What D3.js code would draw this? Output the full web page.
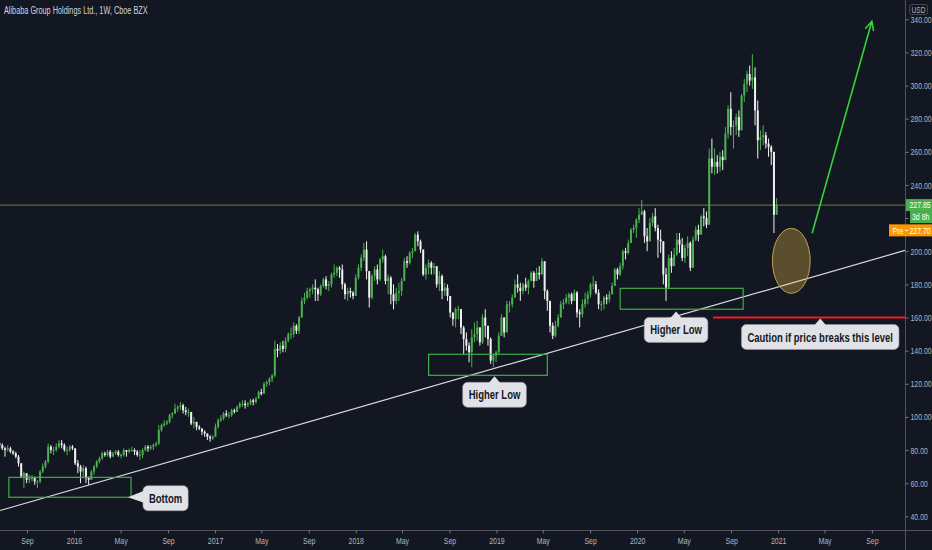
<!DOCTYPE html>
<html>
<head>
<meta charset="utf-8">
<script src="https://cdn.jsdelivr.net/npm/d3@7"></script>
<style>
  body { margin: 0; background: #131722; }
  svg { display: block; }
</style>
</head>
<body>
<div class="chart"></div>
<script>
// Chart size and the price/time axis edges.
var w = 932,
    h = 550;
var plotRight = 905,
    plotBottom = 530;

// Weekly bars, [close, high, low]; each bar opens at the previous close.
var firstWeek = "2015-06-22";
var firstOpen = 84;

var bars2015 = [
  [83, 85, 81], [81, 84, 80], [80, 82, 76], [81, 83, 79], [79, 82, 78], [78, 80, 77],
  [76, 79, 75], [72, 77, 70], [64, 71, 63], [66, 67, 57], [62, 66, 60], [63, 65, 60],
  [63, 65, 61], [61, 64, 59], [61, 62, 57], [67, 68, 60], [70, 72, 66], [73, 74, 69],
  [82, 84, 72], [80, 83, 78], [80, 82, 77], [82, 84, 79], [84, 86, 81], [83, 86, 81],
  [80, 84, 79], [80, 82, 77], [82, 83, 79], [81, 83, 80]
];
var bars2016 = [
  [72, 80, 71], [70, 74, 66], [67, 71, 60], [69, 71, 63], [63, 70, 60], [62, 64, 59],
  [67, 68, 62], [70, 71, 65], [73, 74, 69], [75, 76, 72], [78, 79, 74], [77, 79, 76],
  [79, 80, 76], [76, 80, 75], [78, 79, 76], [79, 80, 77], [77, 80, 76], [77, 78, 75],
  [80, 81, 76], [79, 80, 76], [80, 81, 78], [80, 82, 79], [79, 81, 77], [77, 80, 76],
  [77, 80, 74], [80, 81, 75], [82, 83, 79], [81, 83, 79], [82, 83, 80], [83, 84, 80],
  [84, 85, 82], [92, 95, 83], [95, 96, 91], [96, 98, 94], [97, 98, 95], [101, 102, 96],
  [102, 103, 99], [105, 108, 102], [106, 107, 103], [107, 109, 104], [104, 108, 102], [103, 106, 101],
  [103, 105, 100], [96, 103, 95], [97, 100, 93], [94, 97, 92], [93, 95, 92], [91, 93, 89],
  [90, 92, 88], [88, 90, 86], [87, 89, 85], [88, 89, 86]
];
var bars2017 = [
  [94, 96, 88], [98, 99, 93], [99, 101, 97], [102, 103, 98], [101, 104, 100], [101, 103, 99],
  [104, 105, 100], [103, 105, 102], [106, 107, 103], [108, 109, 105], [108, 110, 106], [107, 110, 105],
  [108, 109, 106], [110, 111, 107], [109, 111, 107], [111, 112, 108], [115, 116, 111], [114, 117, 113],
  [120, 121, 114], [121, 122, 118], [123, 124, 119], [125, 126, 121], [141, 146, 124], [140, 144, 136],
  [143, 145, 138], [141, 146, 139], [146, 148, 139], [150, 151, 145], [150, 154, 147], [155, 157, 148],
  [152, 156, 150], [160, 161, 150], [170, 172, 160], [172, 175, 168], [176, 178, 171], [177, 178, 172],
  [178, 180, 174], [177, 183, 170], [174, 178, 170], [179, 180, 173], [183, 184, 178], [179, 185, 177],
  [180, 182, 176], [186, 187, 178], [187, 192, 184], [190, 191, 185], [189, 191, 184], [180, 192, 177],
  [174, 181, 171], [176, 178, 170], [175, 178, 172], [173, 176, 171]
];
var bars2018 = [
  [184, 186, 173], [190, 192, 183], [196, 198, 188], [201, 205, 194], [188, 206, 183], [172, 188, 166],
  [185, 186, 171], [189, 191, 182], [183, 192, 180], [195, 196, 182], [197, 201, 193], [182, 198, 180],
  [184, 186, 174], [174, 185, 168], [170, 180, 165], [175, 178, 168], [176, 181, 170], [182, 184, 173],
  [194, 196, 182], [193, 197, 190], [199, 200, 192], [200, 202, 196], [210, 211, 200], [206, 212, 203],
  [201, 207, 199], [186, 201, 185], [190, 192, 183], [193, 195, 186], [190, 194, 186], [191, 193, 186],
  [180, 191, 178], [185, 188, 176], [176, 186, 171], [178, 181, 173], [173, 180, 170], [163, 173, 160],
  [159, 163, 155], [165, 166, 154], [165, 167, 159], [154, 164, 150], [147, 155, 138], [143, 151, 140],
  [139, 145, 133], [148, 153, 130], [150, 157, 145], [154, 158, 146], [145, 152, 143], [160, 162, 144],
  [155, 165, 148], [147, 152, 143], [134, 148, 132], [137, 138, 130], [139, 140, 133]
];
var bars2019 = [
  [149, 151, 138], [160, 162, 150], [151, 160, 148], [168, 170, 152], [168, 170, 163], [172, 174, 166],
  [180, 183, 172], [178, 186, 175], [176, 181, 170], [180, 181, 174], [178, 184, 176], [182, 183, 174],
  [187, 188, 182], [182, 188, 178], [187, 190, 182], [186, 191, 183], [194, 196, 186], [176, 186, 171],
  [170, 177, 164], [155, 165, 151], [149, 157, 147], [155, 158, 148], [160, 162, 154], [168, 170, 160],
  [169, 171, 165], [172, 174, 168], [174, 175, 168], [170, 175, 168], [175, 177, 170], [163, 176, 160],
  [162, 165, 154], [168, 171, 160], [171, 175, 166], [174, 176, 168], [180, 181, 172], [180, 185, 177],
  [175, 182, 174], [168, 177, 165], [168, 170, 164], [172, 173, 165], [171, 174, 168], [174, 176, 169],
  [179, 181, 174], [189, 190, 179], [186, 190, 183], [191, 193, 185], [200, 201, 189], [199, 202, 195],
  [205, 207, 198], [213, 214, 205], [214, 216, 211], [219, 220, 208]
];
var bars2020 = [
  [222, 226, 217], [224, 231, 222], [209, 225, 205], [206, 214, 200], [217, 220, 207], [221, 223, 215],
  [214, 226, 212], [207, 216, 196], [206, 213, 199], [186, 204, 180], [178, 190, 170], [196, 198, 179],
  [191, 200, 187], [198, 202, 194], [207, 211, 197], [204, 211, 199], [196, 208, 194], [202, 204, 193],
  [205, 209, 197], [190, 206, 188], [207, 209, 193], [213, 215, 206], [210, 216, 206], [221, 222, 212],
  [220, 226, 215], [216, 224, 214], [256, 262, 218], [251, 268, 247], [254, 262, 246], [251, 258, 247],
  [257, 260, 248], [255, 261, 249], [271, 275, 255], [286, 288, 268], [275, 296, 270], [276, 279, 262],
  [281, 283, 270], [273, 285, 269], [294, 295, 273], [301, 304, 290], [307, 309, 296], [303, 312, 300],
  [305, 319, 298], [285, 311, 276], [267, 291, 256], [269, 273, 261], [270, 276, 264], [265, 272, 262],
  [263, 268, 257], [260, 264, 252], [222, 258, 211], [228, 232, 222]
];

// Axis ticks and price labels.
var yTicks = [40, 60, 80, 100, 120, 140, 160, 180, 200, 220, 240, 260, 280, 300, 320, 340];
var lastPrice = 227.85,
    prePrice = 227.70,
    countdown = "3d 8h";
var title = "Alibaba Group Holdings Ltd., 1W, Cboe BZX";

// Drawings, in date / price.
var trendLine = [["2015-06-23", 43.5], ["2021-11-26", 200.5]];
var zones = [
  ["2015-07-16", 63.5, "2016-05-28", 51.5],
  ["2018-07-09", 137.8, "2019-05-13", 125.1],
  ["2019-11-18", 177.6, "2020-10-02", 165.0]
];
var cautionLevel = ["2020-07-16", 160];
var targetZone = ["2020-12-17", 213.8, "2021-03-25", 174.6];
var targetArrow = [["2021-03-30", 210.8], ["2021-09-01", 338.8]];
var callouts = [
  {text: "Bottom", date: "2016-05-20", price: 51.5, side: "right"},
  {text: "Higher Low", date: "2018-12-27", price: 125.1, side: "below"},
  {text: "Higher Low", date: "2020-04-11", price: 164.3, side: "below"},
  {text: "Caution if price breaks this level", date: "2021-04-20", price: 160, side: "below"}
];

var parseDate = d3.timeParse("%Y-%m-%d");

// Build OHLC rows.
var rows = [];
var allBars = bars2015.concat(bars2016, bars2017, bars2018, bars2019, bars2020);
var prevClose = firstOpen;
var start = parseDate(firstWeek);
allBars.forEach(function(b, i) {
  var o = prevClose;
  rows.push({
    date: d3.timeDay.offset(start, 7 * i),
    open: o,
    close: b[0],
    high: Math.max(b[1], o, b[0]),
    low: Math.min(b[2], o, b[0])
  });
  prevClose = b[0];
});

// The screenshot is squeezed sideways, so text is narrowed to match.
var font = "'Liberation Sans', Arial, sans-serif";
var squeezeBy = 0.73;
function squeeze(sel) {
  sel.each(function() {
    var n = this.getComputedTextLength();
    d3.select(this)
      .attr("textLength", n * squeezeBy)
      .attr("lengthAdjust", "spacingAndGlyphs");
  });
}

var svg = d3.select(".chart").append("svg")
  .attr("width", w)
  .attr("height", h)
  .style("background", "#131722");

var xScale = d3.scaleTime()
  .domain([parseDate("2015-06-23"), parseDate("2021-11-26")])
  .range([0, plotRight]);

var yScale = d3.scaleLinear()
  .domain([40, 340])
  .range([516.3, 19.3]);

svg.append("defs").append("clipPath")
  .attr("id", "plot")
  .append("rect")
  .attr("width", plotRight)
  .attr("height", plotBottom);

var plot = svg.append("g").attr("clip-path", "url(#plot)");

// Last price line.
plot.append("line")
  .attr("x1", 0)
  .attr("x2", plotRight)
  .attr("y1", yScale(lastPrice))
  .attr("y2", yScale(lastPrice))
  .attr("stroke", "#787b3c")
  .attr("stroke-width", 1);

// Candles.
var candles = plot.append("g").selectAll("g")
  .data(rows)
  .enter()
  .append("g")
  .attr("fill", function(d) { return d.close >= d.open ? "#4caf50" : "#f0f0f0"; })
  .attr("stroke", function(d) { return d.close >= d.open ? "#4caf50" : "#f0f0f0"; });

candles.append("line")
  .attr("x1", function(d) { return xScale(d.date); })
  .attr("x2", function(d) { return xScale(d.date); })
  .attr("y1", function(d) { return yScale(d.high); })
  .attr("y2", function(d) { return yScale(d.low); })
  .attr("stroke-width", 1);

candles.append("rect")
  .attr("stroke", "none")
  .attr("x", function(d) { return xScale(d.date) - 1; })
  .attr("width", 2)
  .attr("y", function(d) { return yScale(Math.max(d.open, d.close)); })
  .attr("height", function(d) {
    return Math.max(1, Math.abs(yScale(d.open) - yScale(d.close)));
  });

// Trend line.
plot.append("line")
  .attr("x1", xScale(parseDate(trendLine[0][0])))
  .attr("y1", yScale(trendLine[0][1]))
  .attr("x2", xScale(parseDate(trendLine[1][0])))
  .attr("y2", yScale(trendLine[1][1]))
  .attr("stroke", "#d8d9de")
  .attr("stroke-width", 1.2);

// Green boxes.
plot.selectAll(".zone")
  .data(zones)
  .enter()
  .append("rect")
  .attr("class", "zone")
  .attr("x", function(d) { return xScale(parseDate(d[0])); })
  .attr("y", function(d) { return yScale(d[1]); })
  .attr("width", function(d) { return xScale(parseDate(d[2])) - xScale(parseDate(d[0])); })
  .attr("height", function(d) { return yScale(d[3]) - yScale(d[1]); })
  .attr("fill", "none")
  .attr("stroke", "#3fae45")
  .attr("stroke-width", 1.2);

// Caution level.
plot.append("line")
  .attr("x1", xScale(parseDate(cautionLevel[0])))
  .attr("x2", plotRight)
  .attr("y1", yScale(cautionLevel[1]))
  .attr("y2", yScale(cautionLevel[1]))
  .attr("stroke", "#f01e1e")
  .attr("stroke-width", 1.8);

// Target ellipse.
var ex1 = xScale(parseDate(targetZone[0])), ex2 = xScale(parseDate(targetZone[2]));
var ey1 = yScale(targetZone[1]), ey2 = yScale(targetZone[3]);
plot.append("ellipse")
  .attr("cx", (ex1 + ex2) / 2)
  .attr("cy", (ey1 + ey2) / 2)
  .attr("rx", (ex2 - ex1) / 2)
  .attr("ry", (ey2 - ey1) / 2)
  .attr("fill", "rgba(255, 205, 80, 0.3)")
  .attr("stroke", "#c2a24a")
  .attr("stroke-width", 1);

// Target arrow.
var ax1 = xScale(parseDate(targetArrow[0][0])), ay1 = yScale(targetArrow[0][1]);
var ax2 = xScale(parseDate(targetArrow[1][0])), ay2 = yScale(targetArrow[1][1]);
var ang = Math.atan2(ay2 - ay1, ax2 - ax1);
var head = 10, spread = 0.45;
plot.append("path")
  .attr("d", "M" + ax1 + "," + ay1 + "L" + ax2 + "," + ay2 +
    "M" + (ax2 - head * Math.cos(ang - spread)) + "," + (ay2 - head * Math.sin(ang - spread)) +
    "L" + ax2 + "," + ay2 +
    "L" + (ax2 - head * Math.cos(ang + spread)) + "," + (ay2 - head * Math.sin(ang + spread)))
  .attr("fill", "none")
  .attr("stroke", "#34d23a")
  .attr("stroke-width", 1.6);

// Callouts.
callouts.forEach(function(c) {
  var tx = xScale(parseDate(c.date)), ty = yScale(c.price);
  var g = plot.append("g");
  var label = g.append("text")
    .style("font-family", font)
    .style("font-weight", "bold")
    .style("font-size", "13px")
    .attr("fill", "#131722")
    .attr("text-anchor", "middle")
    .text(c.text)
    .call(squeeze);
  var tw = +label.attr("textLength");
  var bw = tw + 12, bh = 25;
  var bx, by, pointer;
  if (c.side === "right") {
    bx = tx + 15;
    by = ty + 1 - bh / 2;
    pointer = [[bx + 1, by + 5], [tx, ty], [bx + 1, by + 17]];
  } else {
    bx = tx - bw / 2;
    by = ty + 7;
    pointer = [[tx - 6, by + 1], [tx, ty + 1], [tx + 6, by + 1]];
  }
  g.insert("rect", "text")
    .attr("x", bx)
    .attr("y", by)
    .attr("width", bw)
    .attr("height", bh)
    .attr("rx", 5)
    .attr("fill", "#e0e2e8")
    .attr("stroke", "#9598a1")
    .attr("stroke-width", 0.6);
  g.insert("path", "text")
    .attr("d", d3.line()(pointer))
    .attr("fill", "#e0e2e8");
  label.attr("x", bx + bw / 2).attr("y", by + bh / 2 + 4.5);
});

// Axes.
svg.append("line")
  .attr("x1", plotRight + 0.5).attr("x2", plotRight + 0.5)
  .attr("y1", 0).attr("y2", h)
  .attr("stroke", "#50535e");
svg.append("line")
  .attr("x1", 0).attr("x2", w)
  .attr("y1", plotBottom + 0.5).attr("y2", plotBottom + 0.5)
  .attr("stroke", "#50535e");

var yAxis = d3.axisRight(yScale)
  .tickValues(yTicks)
  .tickFormat(d3.format(".2f"))
  .tickSize(3)
  .tickPadding(2);

var gy = svg.append("g")
  .attr("class", "axisY")
  .attr("transform", "translate(" + (plotRight + 0.5) + ",0)")
  .call(yAxis);

var monthFormat = d3.timeFormat("%b"), yearFormat = d3.timeFormat("%Y");
var xAxis = d3.axisBottom(xScale)
  .ticks(d3.timeMonth.every(4))
  .tickFormat(function(d) { return d.getMonth() === 0 ? yearFormat(d) : monthFormat(d); })
  .tickSize(3)
  .tickPadding(4);

var gx = svg.append("g")
  .attr("class", "axisX")
  .attr("transform", "translate(0," + (plotBottom + 0.5) + ")")
  .call(xAxis);

[gx, gy].forEach(function(g) {
  g.select(".domain").remove();
  g.selectAll("line").attr("stroke", "#787b86");
  g.selectAll("text")
    .attr("fill", "#b2b5be")
    .style("font-family", font)
    .style("font-size", "9.5px")
    .call(squeeze);
});

// USD label.
svg.append("rect")
  .attr("x", 909.5).attr("y", 4.5)
  .attr("width", 18).attr("height", 10)
  .attr("rx", 2)
  .attr("fill", "#131722")
  .attr("stroke", "#434651");
svg.append("text")
  .attr("x", 918.5).attr("y", 12.8)
  .attr("text-anchor", "middle")
  .attr("fill", "#b2b5be")
  .style("font-family", font)
  .style("font-size", "9px")
  .text("USD")
  .call(squeeze);

// Price tags on the right.
function tagText(x0, y0, text) {
  svg.append("text")
    .attr("x", x0).attr("y", y0)
    .attr("fill", "#ffffff")
    .style("font-family", font)
    .style("font-size", "9.5px")
    .text(text)
    .call(squeeze);
}
function tagBox(x0, yMid, fill) {
  svg.append("rect")
    .attr("x", x0).attr("y", yMid - 6)
    .attr("width", w - x0).attr("height", 12)
    .attr("fill", fill);
}
var lastY = yScale(lastPrice),
    preY = yScale(prePrice) + 25;
tagBox(plotRight + 1, lastY, "#4caf50");
tagText(909.5, lastY + 3.4, d3.format(".2f")(lastPrice));
tagBox(plotRight + 5, lastY + 12, "#4caf50");
tagText(912, lastY + 15.4, countdown);
tagBox(plotRight - 16, preY, "#ff9800");
tagText(plotRight - 12.5, preY + 3.4, "Pre");
svg.append("line")
  .attr("x1", plotRight).attr("x2", plotRight + 3)
  .attr("y1", preY).attr("y2", preY)
  .attr("stroke", "#ffffff");
tagText(909.5, preY + 3.4, d3.format(".2f")(prePrice));

// Title.
svg.append("text")
  .attr("x", 4)
  .attr("y", 14)
  .attr("fill", "#d1d4dc")
  .style("font-family", font)
  .style("font-size", "10px")
  .text(title)
  .call(squeeze);
</script>
</body>
</html>
